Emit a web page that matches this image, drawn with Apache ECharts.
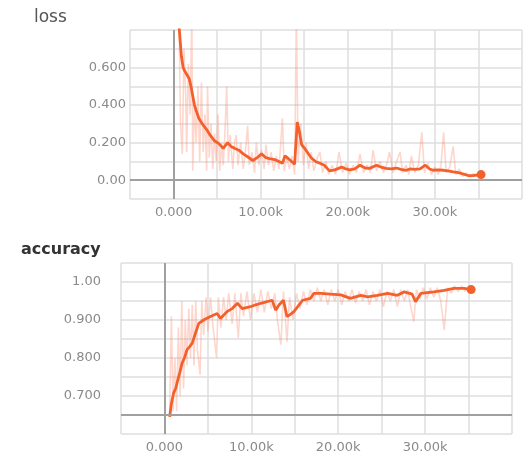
<!DOCTYPE html>
<html>
<head>
<meta charset="utf-8">
<script src="https://cdn.jsdelivr.net/npm/echarts@6/dist/echarts.min.js"></script>
<style>
  html, body { margin: 0; padding: 0; background: #fff; }
  #chart { width: 525px; height: 458px; }
</style>
</head>
<body>
<div id="chart"></div>
<script>
// step ticks shown on both x axes
const stepTickValues = [0, 10000, 20000, 30000];
const stepTickLabels = ['0.000', '10.00k', '20.00k', '30.00k'];

// loss
const lossTickValues = [0, 0.2, 0.4, 0.6];
const lossTickLabels = ['0.00', '0.200', '0.400', '0.600'];
const lossSmoothSteps = [500, 700, 900, 1100, 1300, 1500, 1800, 2000, 2200, 2400, 2600, 2900, 3300, 3800, 4200, 4700, 5200, 5700, 6200, 6600, 7000, 7500, 8000, 8500, 9100, 9600, 10100, 10600, 11000, 11600, 12100, 12500, 12800, 13300, 13900, 14200, 14400, 14700, 15200, 15800, 16300, 16800, 17300, 17900, 18500, 19300, 19800, 20200, 20800, 21400, 22000, 22500, 23300, 23800, 24400, 25000, 25600, 26100, 26700, 27200, 27700, 28300, 28900, 29400, 29800, 30400, 31000, 31500, 32100, 32700, 33300, 33800, 34400, 34900, 35300];
const lossSmooth = [0.9, 0.78, 0.66, 0.6, 0.58, 0.59, 0.54, 0.5, 0.45, 0.4, 0.37, 0.33, 0.3, 0.27, 0.24, 0.21, 0.195, 0.17, 0.2, 0.18, 0.17, 0.16, 0.14, 0.125, 0.105, 0.12, 0.14, 0.12, 0.115, 0.11, 0.1, 0.09, 0.13, 0.11, 0.085, 0.31, 0.27, 0.19, 0.16, 0.12, 0.1, 0.09, 0.08, 0.05, 0.055, 0.07, 0.06, 0.055, 0.06, 0.08, 0.065, 0.063, 0.08, 0.07, 0.063, 0.06, 0.065, 0.058, 0.053, 0.06, 0.058, 0.06, 0.08, 0.06, 0.053, 0.055, 0.053, 0.05, 0.044, 0.04, 0.032, 0.025, 0.024, 0.028, 0.03];
const lossRawSteps = [600, 800, 1000, 1200, 1400, 1500, 1700, 1900, 2100, 2200, 2400, 2600, 2800, 3000, 3200, 3400, 3600, 3800, 3900, 4100, 4300, 4500, 4700, 4900, 5100, 5300, 5500, 5700, 5900, 6100, 6300, 6500, 6800, 7000, 7200, 7400, 7700, 8000, 8300, 8500, 8700, 9000, 9300, 9500, 9800, 10100, 10400, 10600, 10900, 11200, 11500, 11800, 12100, 12500, 12700, 13000, 13300, 13600, 13900, 14100, 14300, 14600, 14900, 15200, 15500, 15800, 16100, 16500, 16800, 17100, 17500, 17800, 18200, 18600, 19000, 19400, 19800, 20200, 20600, 21000, 21400, 21800, 22200, 22600, 22900, 23300, 23700, 24100, 24500, 24800, 25200, 25600, 26000, 26300, 26700, 27000, 27300, 27700, 28100, 28500, 28800, 29200, 29600, 30000, 30400, 30700, 31000, 31300, 31700, 32100, 32400, 32800, 33200, 33600, 34000, 34400, 34800, 35200];
const lossRaw = [0.95, 0.3, 0.14, 0.7, 0.45, 0.15, 0.62, 0.35, 0.9, 0.05, 0.4, 0.2, 0.5, 0.1, 0.52, 0.15, 0.35, 0.05, 0.5, 0.12, 0.3, 0.06, 0.25, 0.1, 0.35, 0.05, 0.2, 0.08, 0.25, 0.5, 0.1, 0.24, 0.06, 0.2, 0.24, 0.08, 0.2, 0.06, 0.18, 0.29, 0.08, 0.15, 0.04, 0.2, 0.08, 0.16, 0.06, 0.19, 0.08, 0.15, 0.05, 0.13, 0.06, 0.33, 0.05, 0.12, 0.06, 0.13, 0.03, 0.9, 0.1, 0.3, 0.08, 0.2, 0.06, 0.15, 0.05, 0.12, 0.15, 0.04, 0.1, 0.03, 0.08, 0.03, 0.15, 0.04, 0.09, 0.03, 0.08, 0.04, 0.14, 0.04, 0.08, 0.04, 0.16, 0.05, 0.1, 0.04, 0.09, 0.15, 0.04, 0.1, 0.15, 0.04, 0.08, 0.03, 0.13, 0.04, 0.08, 0.255, 0.04, 0.09, 0.03, 0.07, 0.03, 0.08, 0.255, 0.04, 0.07, 0.18, 0.03, 0.06, 0.02, 0.04, 0.015, 0.035, 0.02, 0.035];

// accuracy
const accTickValues = [0.7, 0.8, 0.9, 1.0];
const accTickLabels = ['0.700', '0.800', '0.900', '1.00'];
const accSmoothSteps = [600, 800, 1070, 1300, 1460, 1750, 2040, 2300, 2600, 2900, 3200, 3570, 3950, 4200, 4500, 5300, 6070, 6450, 7200, 7800, 8400, 8950, 9900, 10500, 11100, 12400, 12800, 13200, 13700, 14100, 14500, 14900, 15900, 16800, 17200, 18000, 19100, 20300, 21400, 22600, 23400, 24500, 25700, 26800, 27600, 28500, 28900, 29500, 31000, 32200, 33300, 34500, 35300];
const accSmooth = [0.645, 0.68, 0.709, 0.72, 0.735, 0.76, 0.787, 0.8, 0.822, 0.83, 0.839, 0.865, 0.891, 0.895, 0.9, 0.909, 0.917, 0.904, 0.922, 0.93, 0.944, 0.93, 0.935, 0.94, 0.944, 0.952, 0.926, 0.94, 0.952, 0.909, 0.915, 0.922, 0.952, 0.957, 0.97, 0.97, 0.968, 0.966, 0.957, 0.965, 0.961, 0.965, 0.97, 0.965, 0.974, 0.968, 0.948, 0.97, 0.974, 0.978, 0.983, 0.983, 0.98];
const accRawSteps = [600, 800, 1000, 1200, 1400, 1600, 1800, 2000, 2200, 2400, 2600, 2800, 3000, 3200, 3400, 3600, 3800, 4100, 4300, 4500, 4800, 5000, 5300, 5600, 6000, 6200, 6500, 6800, 7100, 7400, 7800, 8100, 8500, 8800, 9100, 9500, 9900, 10300, 10700, 11100, 11500, 11900, 12300, 12700, 13000, 13400, 13700, 14100, 14400, 14800, 15200, 15600, 16000, 16400, 16800, 17200, 17600, 18000, 18400, 18800, 19200, 19600, 20000, 20400, 20800, 21200, 21600, 22000, 22400, 22800, 23200, 23600, 24000, 24400, 24800, 25200, 25600, 26000, 26400, 26800, 27200, 27600, 28000, 28300, 28700, 29000, 29400, 29800, 30200, 30600, 31000, 31400, 31800, 32200, 32600, 33000, 33400, 33800, 34200, 34600, 35000, 35300];
const accRaw = [0.65, 0.91, 0.66, 0.8, 0.66, 0.88, 0.7, 0.95, 0.72, 0.9, 0.78, 0.93, 0.8, 0.94, 0.78, 0.95, 0.82, 0.756, 0.95, 0.86, 0.96, 0.87, 0.96, 0.88, 0.8, 0.96, 0.88, 0.96, 0.9, 0.97, 0.89, 0.97, 0.853, 0.97, 0.91, 0.975, 0.9, 0.97, 0.92, 0.98, 0.92, 0.975, 0.93, 0.97, 0.9, 0.835, 0.975, 0.843, 0.96, 0.9, 0.97, 0.93, 0.975, 0.94, 0.98, 0.95, 0.985, 0.95, 0.98, 0.94, 0.98, 0.95, 0.98, 0.94, 0.975, 0.95, 0.98, 0.945, 0.975, 0.95, 0.98, 0.94, 0.975, 0.95, 0.98, 0.935, 0.975, 0.95, 0.98, 0.935, 0.98, 0.95, 0.98, 0.94, 0.896, 0.98, 0.955, 0.985, 0.955, 0.985, 0.96, 0.985, 0.95, 0.874, 0.985, 0.97, 0.99, 0.975, 0.99, 0.975, 0.99, 0.98];

const pickLabel = (values, labels) => (v) => {
  const i = values.findIndex((t) => Math.abs(t - v) < 1e-6);
  return i >= 0 ? labels[i] : '';
};
const pairs = (xs, ys) => xs.map((x, i) => [x, ys[i]]);
const withEndDot = (data) =>
  data.map((d, i) => (i === data.length - 1 ? { value: d, symbol: 'circle', symbolSize: 9 } : d));

const lineColor = '#f4602c';
const rawColor = 'rgba(250, 130, 100, 0.32)';
const gridColor = '#dedede';
const zeroColor = '#a0a0a0';
const labelStyle = { color: '#8a8a8a', fontSize: 13, fontFamily: 'DejaVu Sans' };

const makeX = (gridIndex) => ({
  type: 'value',
  gridIndex: gridIndex,
  min: -5000,
  max: 40000,
  interval: 5000,
  axisLine: { show: false },
  axisTick: { show: false },
  splitLine: { lineStyle: { color: gridColor, width: 1.5 } },
  axisLabel: Object.assign({ margin: 7, formatter: pickLabel(stepTickValues, stepTickLabels) }, labelStyle),
});

const zeroLines = (yZero) => ({
  silent: true,
  symbol: 'none',
  label: { show: false },
  lineStyle: { color: zeroColor, width: 2, type: 'solid' },
  data: [{ xAxis: 0 }, { yAxis: yZero }],
});

const myChart = echarts.init(document.getElementById('chart'));
const option = {
  animation: false,
  backgroundColor: '#fff',
  title: [
    { text: 'loss', left: 29, top: 4, textStyle: { fontSize: 17, fontWeight: 'normal', color: '#555', fontFamily: 'DejaVu Sans' } },
    { text: 'accuracy', left: 16, top: 237, textStyle: { fontSize: 16, fontWeight: 'bold', color: '#333', fontFamily: 'DejaVu Sans' } },
  ],
  grid: [
    { left: 130, top: 30, width: 392, height: 169 },
    { left: 121, top: 263, width: 391, height: 171 },
  ],
  xAxis: [makeX(0), makeX(1)],
  yAxis: [
    {
      type: 'value',
      gridIndex: 0,
      min: -0.1,
      max: 0.8,
      interval: 0.1,
      axisLine: { show: false },
      axisTick: { show: false },
      splitLine: { lineStyle: { color: gridColor, width: 1.5 } },
      axisLabel: Object.assign({ margin: 4, formatter: pickLabel(lossTickValues, lossTickLabels) }, labelStyle),
    },
    {
      type: 'value',
      gridIndex: 1,
      min: 0.6,
      max: 1.05,
      interval: 0.05,
      axisLine: { show: false },
      axisTick: { show: false },
      splitLine: { lineStyle: { color: gridColor, width: 1.5 } },
      axisLabel: Object.assign({ margin: 20, formatter: pickLabel(accTickValues, accTickLabels) }, labelStyle),
    },
  ],
  series: [
    {
      name: 'loss raw',
      type: 'line',
      xAxisIndex: 0,
      yAxisIndex: 0,
      symbol: 'none',
      lineStyle: { color: rawColor, width: 1.6 },
      data: pairs(lossRawSteps, lossRaw),
      markLine: zeroLines(0),
    },
    {
      name: 'loss',
      type: 'line',
      xAxisIndex: 0,
      yAxisIndex: 0,
      symbol: 'none',
      itemStyle: { color: lineColor },
      lineStyle: { color: lineColor, width: 2.8 },
      data: withEndDot(pairs(lossSmoothSteps, lossSmooth)),
    },
    {
      name: 'accuracy raw',
      type: 'line',
      xAxisIndex: 1,
      yAxisIndex: 1,
      symbol: 'none',
      lineStyle: { color: rawColor, width: 1.6 },
      data: pairs(accRawSteps, accRaw),
      markLine: zeroLines(0.65),
    },
    {
      name: 'accuracy',
      type: 'line',
      xAxisIndex: 1,
      yAxisIndex: 1,
      symbol: 'none',
      itemStyle: { color: lineColor },
      lineStyle: { color: lineColor, width: 2.8 },
      data: withEndDot(pairs(accSmoothSteps, accSmooth)),
    },
  ],
};
myChart.setOption(option);
</script>
</body>
</html>
